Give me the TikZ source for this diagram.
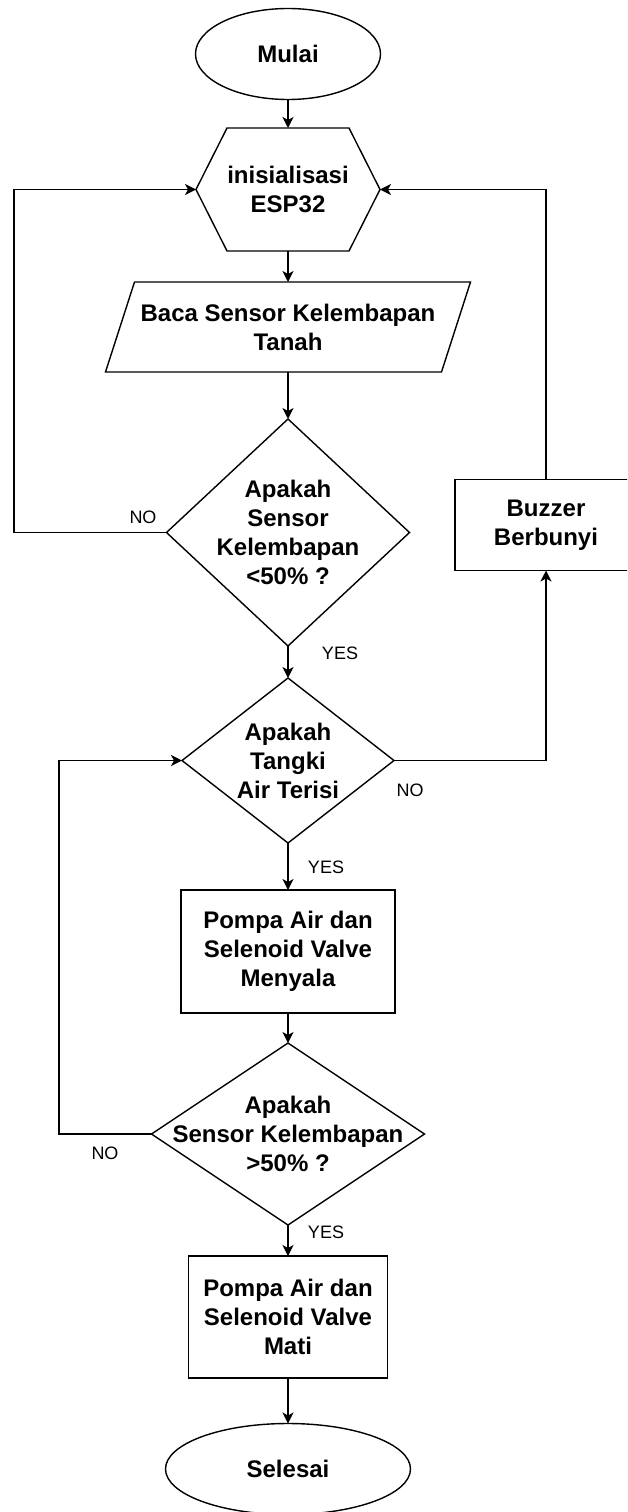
\documentclass[tikz,border=0pt]{standalone}
\usepackage{fontspec}
\setmainfont{Liberation Sans}
\usetikzlibrary{shapes.geometric,arrows.meta,calc}
\begin{document}
\begin{tikzpicture}[x=1pt,y=-1pt,
  line width=1.4pt,
  boxtext/.style={font=\fontsize{24pt}{29pt}\selectfont\bfseries, align=center, inner sep=0pt},
  shp/.style={draw, line width=1.4pt, inner sep=0pt, outer sep=0pt},
  ghost/.style={draw=none, inner sep=0pt, outer sep=0pt},
  lbl/.style={font=\fontsize{18pt}{21pt}\selectfont, inner sep=0pt},
  arr/.style={-{Stealth[length=11pt,width=11pt,inset=3pt]}},
  conn/.style={line width=1.4pt}
]
\useasboundingbox (0,0) rectangle (627,1512);
\clip (0,0) rectangle (627,1512);
\fill[white] (0,0) rectangle (627,1512);

% shapes
\node[shp, ellipse, minimum width=185pt, minimum height=91pt, boxtext] (m) at (288,54) {Mulai};

\node[ghost, minimum width=184pt, minimum height=123pt, boxtext] (h) at (288,189.5) {inisialisasi\\ESP32};
\draw[line join=miter] ([xshift=31pt]h.north west) -- ([xshift=-31pt]h.north east) -- (h.east)
  -- ([xshift=-31pt]h.south east) -- ([xshift=31pt]h.south west) -- (h.west) -- cycle;

\node[ghost, minimum width=365pt, minimum height=90pt, boxtext] (p) at (288,327) {Baca Sensor Kelembapan\\Tanah};
\draw[line join=miter] (p.south west) -- ([xshift=-29pt]p.south east) -- (p.north east)
  -- ([xshift=29pt]p.north west) -- cycle;

\node[shp, diamond, minimum width=243pt, minimum height=227pt] (d1) at (288,532.5) {};
\node[boxtext] (d1t) at (288,532.5) {Apakah\\Sensor\\Kelembapan\\ <50\% ?};

\node[shp, rectangle, minimum width=182pt, minimum height=91pt, boxtext] (b) at (546,525) {Buzzer\\Berbunyi};

\node[shp, diamond, minimum width=212pt, minimum height=165pt] (d2) at (288,760.5) {};
\node[boxtext] (d2t) at (288,760.5) {Apakah\\Tangki\\Air Terisi};

\node[shp, rectangle, minimum width=214pt, minimum height=123pt, boxtext] (r1) at (288,951.5) {Pompa Air dan\\Selenoid Valve\\Menyala};

\node[shp, diamond, minimum width=273pt, minimum height=182pt] (d3) at (288,1134) {};
\node[boxtext] (d3t) at (288,1134) {Apakah\\Sensor Kelembapan\\ >50\% ?};

\node[shp, rectangle, minimum width=199pt, minimum height=122pt, boxtext] (r2) at (288,1317) {Pompa Air dan\\Selenoid Valve\\Mati};

\node[shp, ellipse, minimum width=245pt, minimum height=91pt, boxtext] (s) at (288,1469) {Selesai};

% loop corner coordinates
\coordinate (L1) at (14,0);
\coordinate (R1) at (546,0);
\coordinate (L2) at (59,0);

% connectors
\draw[conn,arr] (m.south) -- (h.north);
\draw[conn,arr] (h.south) -- (h.south |- p.north);
\draw[conn,arr] (h.south |- p.south) -- (d1.north);
\draw[conn,arr] (d1.west) -- (L1 |- d1.west) -- (L1 |- h.west) -- (h.west);
\draw[conn,arr] (d1.south) -- (d2.north);
\draw[conn,arr] (d2.east) -- (R1 |- d2.east) -- (b.south);
\draw[conn,arr] (b.north) -- (R1 |- h.east) -- (h.east);
\draw[conn,arr] (d2.south) -- (r1.north);
\draw[conn,arr] (r1.south) -- (d3.north);
\draw[conn,arr] (d3.west) -- (L2 |- d3.west) -- (L2 |- d2.west) -- (d2.west);
\draw[conn,arr] (d3.south) -- (r2.north);
\draw[conn,arr] (r2.south) -- (s.north);

% labels
\node[lbl] (no1) at (143,517) {NO};
\node[lbl] (yes1) at (340,653) {YES};
\node[lbl] (no2) at (410,790) {NO};
\node[lbl] (yes2) at (326,867) {YES};
\node[lbl] (no3) at (105,1153) {NO};
\node[lbl] (yes3) at (326,1232) {YES};
\end{tikzpicture}
\end{document}
